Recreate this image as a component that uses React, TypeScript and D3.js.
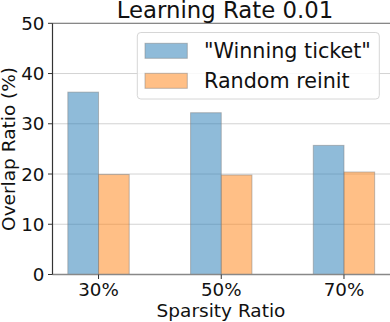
import React from "react";
import * as d3 from "d3";

const categories = ["30%", "50%", "70%"];
const winningTicket = [36.3, 32.2, 25.7];
const randomReinit = [19.9, 19.8, 20.4];
const yTicks = [0, 10, 20, 30, 40, 50];
const seriesNames = ['"Winning ticket"', "Random reinit"];

const width = 390;
const height = 322;
const margin = { top: 23.3, right: 0, bottom: 47.5, left: 52.5 };
const font = "DejaVu Sans, sans-serif";

const App = () => {
  const x = d3
    .scaleLinear()
    .domain([-0.375, 2.375])
    .range([margin.left, width - margin.right]);
  const y = d3
    .scaleLinear()
    .domain([0, 50])
    .range([height - margin.bottom, margin.top]);

  const barW = 0.25;
  const colors = ["#1f77b4", "#ff7f0e"];
  const series = [winningTicket, randomReinit];

  return (
    <svg
      width={width}
      height={height}
      style={{ position: "absolute", left: 0, top: 0, background: "#fff" }}
      fontFamily={font}
    >
      {/* grid */}
      {yTicks.map((t) => (
        <line
          key={"g" + t}
          x1={x(-0.375)}
          x2={x(2.375)}
          y1={y(t)}
          y2={y(t)}
          stroke="#d3d3d3"
          strokeWidth={1}
        />
      ))}

      {/* bars */}
      {series.map((vals, s) =>
        vals.map((v, i) => {
          const x0 = s === 0 ? i - barW : i;
          return (
            <rect
              key={s + "-" + i}
              x={x(x0)}
              y={y(v)}
              width={x(x0 + barW) - x(x0)}
              height={y(0) - y(v)}
              fill={colors[s]}
              fillOpacity={0.5}
              stroke="#808080"
              strokeOpacity={0.5}
              strokeWidth={1}
            />
          );
        })
      )}

      {/* spines */}
      <line x1={x(-0.375)} x2={x(2.375)} y1={y(50)} y2={y(50)} stroke="#888" strokeWidth={1.2} />
      <line x1={x(-0.375)} x2={x(2.375)} y1={y(0)} y2={y(0)} stroke="#888" strokeWidth={1.5} />
      <line x1={x(-0.375)} x2={x(-0.375)} y1={y(0)} y2={y(50)} stroke="#333" strokeWidth={1.2} />

      {/* y ticks */}
      {yTicks.map((t) => (
        <g key={"y" + t}>
          <line x1={x(-0.375) - 4.5} x2={x(-0.375)} y1={y(t)} y2={y(t)} stroke="#333" strokeWidth={1} />
          <text
            x={x(-0.375) - 8}
            y={y(t)}
            dy="0.36em"
            textAnchor="end"
            fontSize={18.3}
            fill="#111"
          >
            {t}
          </text>
        </g>
      ))}

      {/* x ticks */}
      {categories.map((c, i) => (
        <g key={c}>
          <line x1={x(i)} x2={x(i)} y1={y(0)} y2={y(0) + 4.5} stroke="#333" strokeWidth={1} />
          <text x={x(i)} y={295.7} textAnchor="middle" fontSize={18.3} fill="#111">
            {c}
          </text>
        </g>
      ))}

      {/* axis labels */}
      <text x={221} y={316.5} textAnchor="middle" fontSize={18.5} fill="#111">
        Sparsity Ratio
      </text>
      <text
        transform={`translate(15,${(y(0) + y(50)) / 2}) rotate(-90)`}
        textAnchor="middle"
        fontSize={18.5}
        fill="#111"
      >
        Overlap Ratio (%)
      </text>

      {/* title */}
      <text x={225} y={17.5} textAnchor="middle" fontSize={22.8} fill="#111">
        Learning Rate 0.01
      </text>

      {/* legend */}
      <rect
        x={137.3}
        y={32.5}
        width={242}
        height={66.5}
        rx={3.5}
        fill="#fff"
        fillOpacity={0.85}
        stroke="#d6d6d6"
        strokeWidth={1}
      />
      {seriesNames.map((n, s) => (
        <g key={n}>
          <rect
            x={145}
            y={43.3 + s * 30}
            width={42.3}
            height={15}
            fill={colors[s]}
            fillOpacity={0.5}
            stroke="#808080"
            strokeOpacity={0.5}
          />
          <text x={204} y={58.3 + s * 29.5} fontSize={20.7} fill="#111">
            {n}
          </text>
        </g>
      ))}
    </svg>
  );
};

export default App;
